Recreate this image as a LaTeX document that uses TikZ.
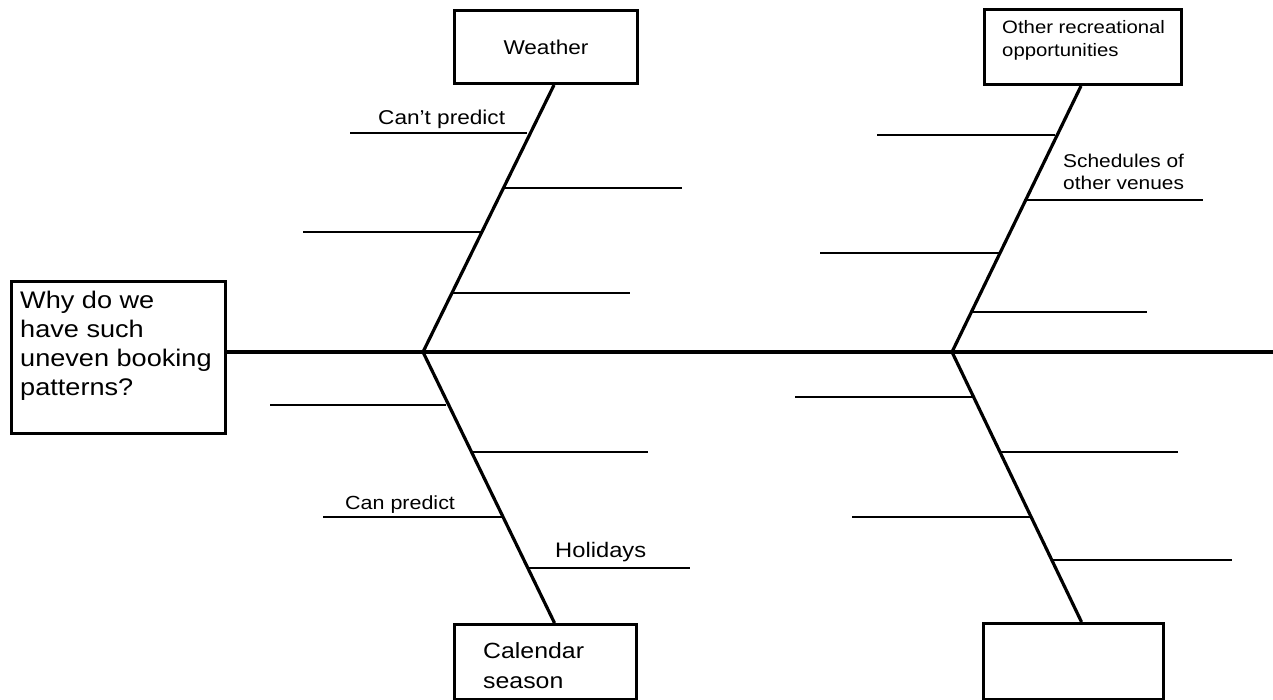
\documentclass[tikz,border=0pt]{standalone}
\usepackage{fontspec}
\setmainfont{Liberation Sans}[FakeStretch=1.13]
\begin{document}
\begin{tikzpicture}[x=1pt,y=-1pt,
  box/.style={draw,line width=3pt,inner sep=0pt,anchor=north west},
  bone/.style={line width=3.2pt},
  ribline/.style={line width=2.8pt},
  spine/.style={line width=3.8pt},
  lbl/.style={inner sep=0pt,anchor=base west,align=left}]
\useasboundingbox[fill=white] (0,0) rectangle (1273,700);

% boxes (multi-line labels are placed by the baseline of their last line)
\node[box,minimum width=214pt,minimum height=152pt] (prob) at (10,280) {};
\node[lbl,font=\fontsize{24}{29}\selectfont] (probtxt) at (20,395)
  {Why do we\\have such\\uneven booking\\patterns?};
\node[box,minimum width=183pt,minimum height=73pt,font=\fontsize{20}{24}\selectfont] (weather) at (453,9) {Weather};
\node[box,minimum width=182pt,minimum height=75pt] (cal) at (453,623) {};
\node[lbl,font=\fontsize{22}{30}\selectfont] (caltxt) at (483,688) {Calendar\\season};
\node[box,minimum width=197pt,minimum height=75pt] (other) at (983,8) {};
\node[lbl,font=\fontsize{18}{23}\selectfont] (othertxt) at (1002,57) {Other recreational\\opportunities};
\node[box,minimum width=180pt,minimum height=76pt] (empty) at (982,622) {};

% spine and joints
\coordinate (j1) at (423,352);
\coordinate (j2) at (952,352);
\coordinate (head) at (1273,352);
\draw[spine] (prob.east |- j1) -- (head);

% bones
\draw[bone] (j1) -- ([xshift=8pt]weather.south);
\draw[bone] (j1) -- ([xshift=9pt]cal.north);
\draw[bone] (j2) -- ([xshift=-2pt]other.south);
\draw[bone] (j2) -- ([xshift=8pt]empty.north);

% ribs: left upper bone
\coordinate (a1) at (527,133); \coordinate (a1e) at (350,133);
\coordinate (a2) at (502,188); \coordinate (a2e) at (682,188);
\coordinate (a3) at (481,232); \coordinate (a3e) at (303,232);
\coordinate (a4) at (451,293); \coordinate (a4e) at (630,293);
\draw[ribline] (a1) -- (a1e);
\draw[ribline] (a2) -- (a2e);
\draw[ribline] (a3) -- (a3e);
\draw[ribline] (a4) -- (a4e);
% ribs: left lower bone
\coordinate (b1) at (446,405); \coordinate (b1e) at (270,405);
\coordinate (b2) at (471,452); \coordinate (b2e) at (648,452);
\coordinate (b3) at (502,517); \coordinate (b3e) at (323,517);
\coordinate (b4) at (527,568); \coordinate (b4e) at (690,568);
\draw[ribline] (b1) -- (b1e);
\draw[ribline] (b2) -- (b2e);
\draw[ribline] (b3) -- (b3e);
\draw[ribline] (b4) -- (b4e);
% ribs: right upper bone
\coordinate (c1) at (1055,135); \coordinate (c1e) at (877,135);
\coordinate (c2) at (1024,200); \coordinate (c2e) at (1203,200);
\coordinate (c3) at (999,253); \coordinate (c3e) at (820,253);
\coordinate (c4) at (971,312); \coordinate (c4e) at (1147,312);
\draw[ribline] (c1) -- (c1e);
\draw[ribline] (c2) -- (c2e);
\draw[ribline] (c3) -- (c3e);
\draw[ribline] (c4) -- (c4e);
% ribs: right lower bone
\coordinate (d1) at (973,397); \coordinate (d1e) at (795,397);
\coordinate (d2) at (999,452); \coordinate (d2e) at (1178,452);
\coordinate (d3) at (1030,517); \coordinate (d3e) at (852,517);
\coordinate (d4) at (1051,560); \coordinate (d4e) at (1232,560);
\draw[ribline] (d1) -- (d1e);
\draw[ribline] (d2) -- (d2e);
\draw[ribline] (d3) -- (d3e);
\draw[ribline] (d4) -- (d4e);

% rib labels
\node[lbl,font=\fontsize{20}{24}\selectfont] (l1) at (378,125) {Can't predict};
\node[lbl,font=\fontsize{19}{24}\selectfont] (l2) at (345,509) {Can predict};
\node[lbl,font=\fontsize{21}{24}\selectfont] (l3) at (555,557) {Holidays};
\node[lbl,font=\fontsize{18.5}{22}\selectfont] (l4) at (1063,190) {Schedules of\\other venues};
\end{tikzpicture}
\end{document}
